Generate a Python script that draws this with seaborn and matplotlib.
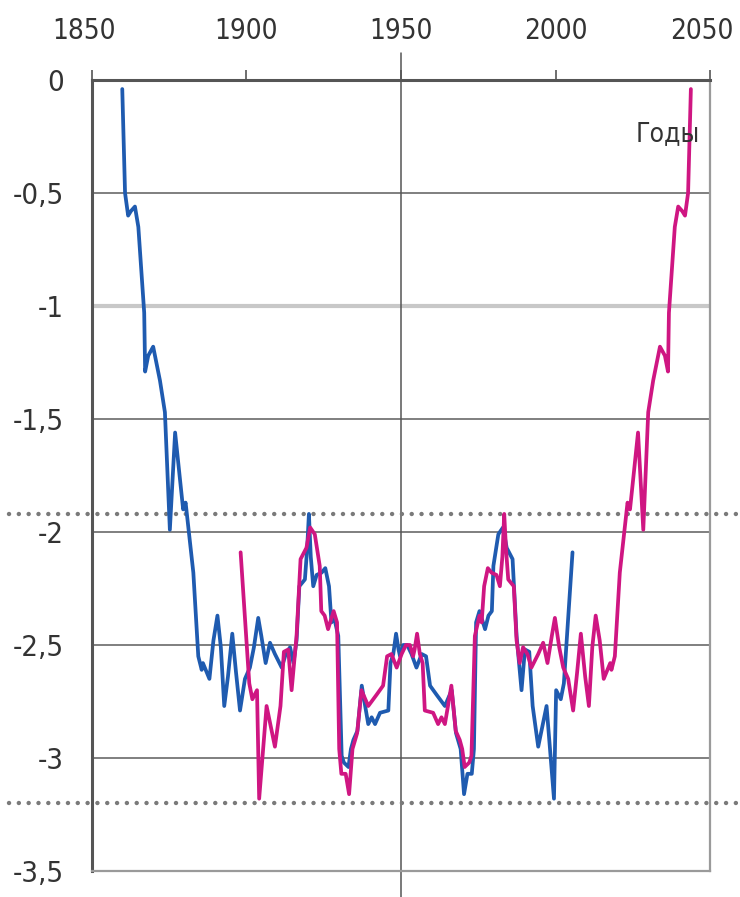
import matplotlib
matplotlib.use("Agg")
import matplotlib.pyplot as plt
import matplotlib.transforms as mtransforms
import seaborn as sns

# values
blue_years = [1859.8, 1860.7, 1861.7, 1862.6, 1863.9, 1865.0, 1866.9, 1867.2, 1868.2, 1869.8,
              1872.0, 1873.6, 1875.2, 1876.9, 1878.5, 1879.5, 1880.3, 1882.8, 1884.4, 1885.5,
              1885.9, 1888.0, 1889.3, 1890.6, 1891.7, 1892.8, 1894.0, 1895.4, 1896.6, 1897.9,
              1899.5, 1901.1, 1902.4, 1903.8, 1904.8, 1906.2, 1907.6, 1909.2, 1911.4, 1912.7,
              1914.1, 1915.2, 1916.2, 1917.1, 1918.9, 1919.6, 1920.2, 1920.8, 1921.6, 1922.7,
              1924.3, 1925.5, 1926.7, 1927.5, 1928.2, 1929.7, 1930.8, 1931.5, 1933.0, 1933.8,
              1934.6, 1935.9, 1937.3, 1938.4, 1939.4, 1940.5, 1941.6, 1943.2, 1945.9, 1946.6,
              1947.5, 1948.4, 1949.2, 1949.7, 1950.7, 1952.0, 1953.4, 1955.0, 1956.7, 1958.1,
              1959.4, 1961.5, 1964.2, 1966.4, 1967.8, 1969.3, 1970.4, 1971.5, 1972.9, 1973.6,
              1974.3, 1975.4, 1977.2, 1978.3, 1979.4, 1979.9, 1981.5, 1983.0, 1984.2, 1986.1,
              1987.4, 1989.0, 1990.1, 1991.5, 1992.6, 1994.4, 1997.1, 1999.5, 2000.2, 2001.7,
              2002.7, 2005.5]
blue_values = [-0.04, -0.50, -0.60, -0.58, -0.56, -0.65, -1.03, -1.29, -1.22, -1.18,
               -1.33, -1.47, -1.99, -1.56, -1.77, -1.90, -1.87, -2.18, -2.55, -2.61,
               -2.58, -2.65, -2.48, -2.37, -2.51, -2.77, -2.64, -2.45, -2.62, -2.79,
               -2.65, -2.60, -2.51, -2.38, -2.46, -2.58, -2.49, -2.54, -2.60, -2.54,
               -2.51, -2.58, -2.48, -2.24, -2.21, -2.08, -1.92, -2.11, -2.24, -2.19,
               -2.18, -2.16, -2.24, -2.40, -2.37, -2.46, -2.99, -3.02, -3.04, -2.96,
               -2.92, -2.88, -2.68, -2.77, -2.85, -2.82, -2.85, -2.80, -2.79, -2.58,
               -2.54, -2.45, -2.52, -2.55, -2.50, -2.50, -2.54, -2.60, -2.54, -2.55,
               -2.68, -2.72, -2.77, -2.70, -2.89, -2.96, -3.16, -3.07, -3.07, -2.96,
               -2.40, -2.35, -2.43, -2.37, -2.35, -2.15, -2.01, -1.98, -2.07, -2.12,
               -2.46, -2.70, -2.52, -2.53, -2.77, -2.95, -2.77, -3.18, -2.70, -2.74,
               -2.67, -2.09]

pink_years = [1898.1, 1900.9, 1901.9, 1903.4, 1904.1, 1906.5, 1909.2, 1911.0, 1912.1, 1913.5,
              1914.6, 1916.2, 1917.5, 1919.4, 1920.6, 1922.1, 1923.7, 1924.2, 1925.3, 1926.4,
              1928.2, 1929.3, 1930.0, 1930.7, 1932.1, 1933.2, 1934.3, 1935.8, 1937.2, 1939.4,
              1942.1, 1944.2, 1945.5, 1946.9, 1948.6, 1950.2, 1951.6, 1952.9, 1953.9, 1954.4,
              1955.2, 1956.1, 1957.0, 1957.7, 1960.4, 1962.0, 1963.1, 1964.2, 1965.2, 1966.3,
              1967.7, 1969.0, 1969.8, 1970.6, 1972.1, 1972.8, 1973.9, 1975.4, 1976.1, 1976.9,
              1978.1, 1979.3, 1980.9, 1982.0, 1982.8, 1983.4, 1984.0, 1984.7, 1986.5, 1987.4,
              1988.4, 1989.5, 1990.9, 1992.2, 1994.4, 1996.0, 1997.4, 1998.8, 1999.8, 2001.2,
              2002.5, 2004.1, 2005.7, 2007.0, 2008.2, 2009.6, 2010.8, 2011.9, 2013.0, 2014.3,
              2015.6, 2017.7, 2018.1, 2019.2, 2020.8, 2023.3, 2024.1, 2025.1, 2026.7, 2028.4,
              2030.0, 2031.6, 2033.8, 2035.4, 2036.4, 2036.7, 2038.6, 2039.7, 2041.0, 2041.9,
              2042.9, 2043.8]
pink_values = [-2.09, -2.67, -2.74, -2.70, -3.18, -2.77, -2.95, -2.77, -2.53, -2.52,
               -2.70, -2.46, -2.12, -2.07, -1.98, -2.01, -2.15, -2.35, -2.37, -2.43,
               -2.35, -2.40, -2.96, -3.07, -3.07, -3.16, -2.96, -2.89, -2.70, -2.77,
               -2.72, -2.68, -2.55, -2.54, -2.60, -2.54, -2.50, -2.50, -2.55, -2.52,
               -2.45, -2.54, -2.58, -2.79, -2.80, -2.85, -2.82, -2.85, -2.77, -2.68,
               -2.88, -2.92, -2.96, -3.04, -3.02, -2.99, -2.46, -2.37, -2.40, -2.24,
               -2.16, -2.18, -2.19, -2.24, -2.11, -1.92, -2.08, -2.21, -2.24, -2.48,
               -2.58, -2.51, -2.54, -2.60, -2.54, -2.49, -2.58, -2.46, -2.38, -2.51,
               -2.60, -2.65, -2.79, -2.62, -2.45, -2.64, -2.77, -2.51, -2.37, -2.48,
               -2.65, -2.58, -2.61, -2.55, -2.18, -1.87, -1.90, -1.77, -1.56, -1.99,
               -1.47, -1.33, -1.18, -1.22, -1.29, -1.03, -0.65, -0.56, -0.58, -0.60,
               -0.50, -0.04]

x_ticks = [1850, 1900, 1950, 2000, 2050]
y_ticks = [0, -0.5, -1, -1.5, -2, -2.5, -3, -3.5]
y_labels = ["0", "-0,5", "-1", "-1,5", "-2", "-2,5", "-3", "-3,5"]
limits = [-1.92, -3.2]

sns.set_style("white")
plt.rcParams["font.family"] = ["DejaVu Sans"]
plt.rcParams["font.stretch"] = "condensed"

fig = plt.figure(figsize=(7.4, 8.97), dpi=100)
ax = fig.add_axes([0.1243, 0.029, 0.8352, 0.8818])

# grid lines
for v in y_ticks[1:-1]:
    if v == -1:
        ax.axhline(v, color="#c8c8c8", lw=3, zorder=1)
    else:
        ax.axhline(v, color="#6a6a6a", lw=1.2, zorder=1)

# vertical line through 1950, sticking out of the axes
ax.plot([1950, 1950], [0.12, -3.62], color="#555555", lw=1.1, clip_on=False, zorder=1)

# dotted limit lines
for v in limits:
    ax.plot([1823, 2065], [v, v], color="#7a7a7a", lw=3.2, dashes=(0.01, 2.2),
            dash_capstyle="round", clip_on=False, zorder=2)

sns.lineplot(x=blue_years, y=blue_values, color="#1f5bb0", lw=2.7, estimator=None, ax=ax, zorder=3)
sns.lineplot(x=pink_years, y=pink_values, color="#cf1682", lw=2.7, estimator=None, ax=ax, zorder=4)

ax.set_xlim(1850, 2050)
ax.set_ylim(-3.5, 0)
ax.set_xticks(x_ticks)
ax.set_xticklabels([str(t) for t in x_ticks])
ax.set_yticks(y_ticks)
ax.set_yticklabels(y_labels)
ax.xaxis.tick_top()
ax.tick_params(axis="x", direction="out", length=7, width=1.2, color="#555555",
               pad=18, labelsize=20, labelcolor="#333333")
ax.tick_params(axis="y", direction="out", length=6, width=1.2, color="#6a6a6a",
               pad=14, labelsize=21, labelcolor="#333333")
ax.set_xlabel("")
ax.set_ylabel("")

# end labels sit a little left of their ticks, as in the original
shift = mtransforms.ScaledTranslation(-0.08, 0, fig.dpi_scale_trans)
for lbl in [ax.get_xticklabels()[0], ax.get_xticklabels()[-1]]:
    lbl.set_transform(lbl.get_transform() + shift)

for side in ["top", "left"]:
    ax.spines[side].set_color("#555555")
    ax.spines[side].set_linewidth(2.2)
for side in ["right", "bottom"]:
    ax.spines[side].set_color("#9a9a9a")
    ax.spines[side].set_linewidth(1.6)

ax.text(2036.4, -0.24, "Годы", fontsize=19, color="#333333", ha="center", va="center", zorder=5)

fig.savefig("out.png", dpi=100)
